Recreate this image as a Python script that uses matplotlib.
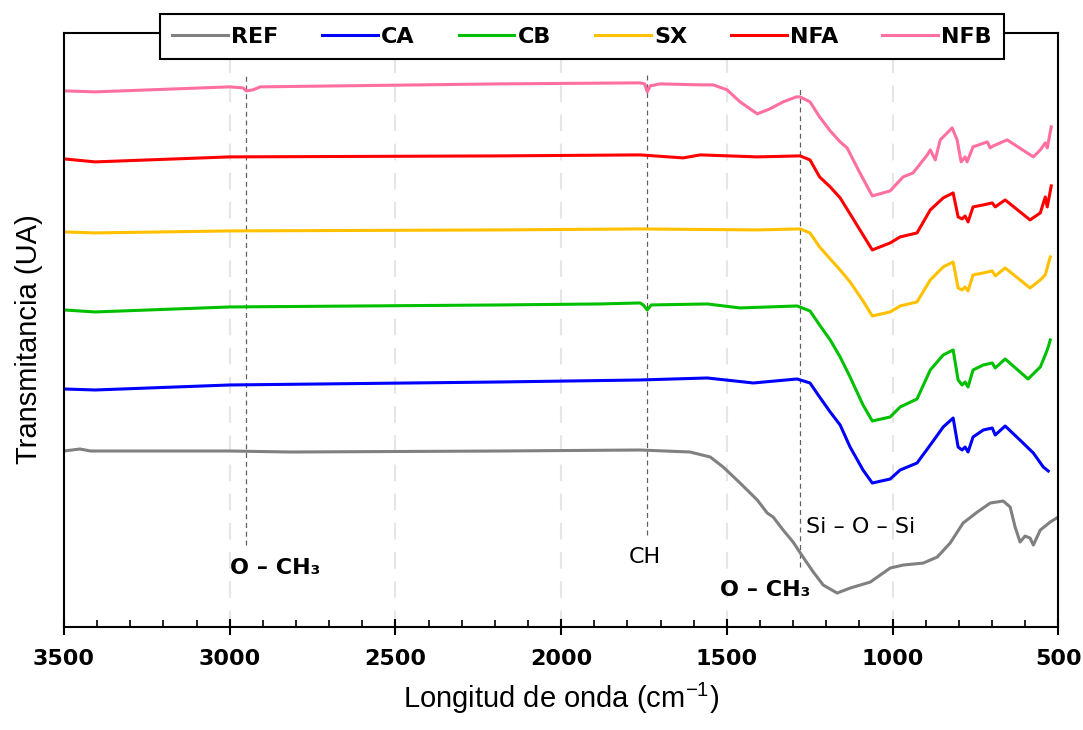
import numpy as np
import matplotlib
matplotlib.use("Agg")
import matplotlib.pyplot as plt
from matplotlib import font_manager

# wavenumber (cm-1) and offset transmittance (arbitrary units)
ref_w = [3500, 3452, 3420, 3000, 2818, 2184, 1762, 1611, 1550, 1511, 1460, 1408, 1378, 1360, 1330,
         1300, 1270, 1239, 1209, 1167, 1128, 1067, 1007, 968, 907, 865, 826, 787, 744, 705, 666,
         645, 630, 615, 600, 585, 575, 554, 524, 500]
ref_t = [176, 178, 176, 176, 175, 176, 177, 175, 170, 160, 144, 127, 114, 110, 97,
         85, 70, 55, 42, 34, 39, 45, 59, 62, 64, 70, 84, 104, 115, 124, 126,
         120, 100, 85, 91, 89, 82, 97, 105, 110]

ca_w = [3500, 3406, 3000, 2184, 1762, 1559, 1420, 1288, 1249, 1220, 1188, 1158, 1128, 1089, 1061,
        1007, 977, 926, 886, 847, 817, 802, 790, 781, 772, 757, 726, 699, 690, 660, 606, 575, 545, 530]
ca_t = [238, 237, 242, 245, 247, 249, 244, 248, 244, 230, 215, 202, 180, 157, 144,
        148, 157, 164, 182, 200, 209, 180, 177, 180, 175, 190, 197, 199, 192, 201, 184, 174, 160, 156]

cb_w = [3500, 3406, 3000, 2184, 1882, 1762, 1752, 1740, 1728, 1559, 1460, 1288, 1249, 1220, 1188,
        1158, 1128, 1089, 1061, 1007, 977, 926, 886, 847, 817, 802, 790, 781, 772, 757, 726, 699,
        690, 660, 591, 554, 539, 530, 524]
cb_t = [317, 315, 320, 322, 323, 324, 322, 317, 322, 323, 319, 321, 316, 302, 287,
        270, 250, 222, 206, 210, 220, 228, 257, 272, 277, 247, 242, 245, 240, 257, 262, 264,
        259, 268, 248, 260, 272, 280, 287]

sx_w = [3500, 3406, 3000, 2184, 1762, 1408, 1279, 1249, 1220, 1188, 1158, 1128, 1089, 1061, 1007,
        977, 926, 886, 847, 817, 802, 790, 781, 772, 757, 726, 699, 690, 660, 585, 554, 539, 524]
sx_t = [395, 394, 396, 397, 398, 397, 398, 394, 380, 368, 357, 345, 326, 311, 315,
        321, 325, 347, 360, 365, 339, 337, 340, 336, 352, 354, 356, 351, 359, 339, 347, 352, 370]

nfa_w = [3500, 3406, 3000, 2184, 1762, 1632, 1580, 1408, 1279, 1249, 1220, 1188, 1158, 1128, 1089,
         1061, 1007, 977, 926, 886, 847, 817, 802, 790, 781, 772, 757, 726, 699, 690, 660, 585,
         554, 539, 533, 521]
nfa_t = [468, 465, 470, 471, 472, 469, 472, 470, 471, 467, 450, 440, 429, 413, 392,
         377, 384, 390, 394, 417, 429, 434, 410, 408, 411, 405, 420, 422, 424, 420, 427, 407,
         414, 430, 420, 441]

nfb_w = [3500, 3406, 3000, 2960, 2950, 2930, 2908, 2184, 1762, 1748, 1740, 1731, 1701, 1580, 1541,
         1499, 1460, 1408, 1370, 1330, 1290, 1279, 1249, 1220, 1188, 1158, 1137, 1100, 1061, 1007,
         968, 938, 895, 886, 871, 856, 820, 805, 793, 781, 775, 757, 714, 705, 696, 654, 575,
         554, 539, 533, 521]
nfb_t = [536, 535, 540, 539, 536, 537, 540, 543, 544, 543, 535, 541, 543, 542, 542,
         537, 525, 513, 518, 525, 530, 530, 525, 510, 496, 485, 479, 455, 431, 436,
         450, 454, 472, 477, 467, 487, 499, 487, 465, 470, 465, 480, 485, 479, 481, 487, 470,
         477, 484, 479, 500]

labels = ["REF", "CA", "CB", "SX", "NFA", "NFB"]
colors = ["#808080", "#0000ff", "#00c000", "#ffc000", "#ff0000", "#ff6f9f"]
series = [(ref_w, ref_t), (ca_w, ca_t), (cb_w, cb_t), (sx_w, sx_t), (nfa_w, nfa_t), (nfb_w, nfb_t)]

# band markers: wavenumber, line bottom/top
bands = [(2950, 82, 552), (1740, 92, 552), (1280, 60, 541)]
notes = [("O – CH₃", 2863, 59, True, "center"),
         ("CH", 1747, 70, False, "center"),
         ("O – CH₃", 1384, 37, True, "center"),
         ("Si – O – Si", 1262, 100, False, "left")]

installed = {f.name for f in font_manager.fontManager.ttflist}
narrow = [f for f in ["DejaVu Sans Condensed", "Liberation Sans Narrow"] if f in installed] + ["DejaVu Sans"]

plt.rcParams["mathtext.fontset"] = "custom"
plt.rcParams["mathtext.rm"] = "Liberation Sans"

fig = plt.figure(figsize=(10.83, 7.30), dpi=100)
ax = fig.add_axes([0.0591, 0.141, 0.918, 0.814])

for x in [3000, 2500, 2000, 1500, 1000]:
    ax.axvline(x, color="#e6e6e6", lw=1.5, ls=(0, (8, 6)), zorder=0)

for (w, t), lab, c in zip(series, labels, colors):
    ax.plot(w, t, color=c, lw=2.2, label=lab, solid_joinstyle="round")

for x, lo, hi in bands:
    ax.plot([x, x], [lo, hi], color="#606060", lw=0.9, ls=(0, (4, 3)), zorder=1)

for txt, x, y, bold, ha in notes:
    ax.text(x, y, txt, ha=ha, va="center", fontsize=16,
            fontweight="bold" if bold else "normal", family="DejaVu Sans")

ax.set_xlim(3500, 500)
ax.set_ylim(0, 594)
ax.set_xticks(np.arange(3500, 499, -500))
ax.set_xticks(np.arange(3500, 499, -100), minor=True)
ax.set_yticks([])
ax.tick_params(axis="x", which="major", direction="inout", length=12, width=1.5, pad=10)
ax.tick_params(axis="x", which="minor", direction="in", length=5, width=1.2)
for lab in ax.get_xticklabels():
    lab.set_family(narrow)
    lab.set_fontweight("bold")
    lab.set_fontsize(16)
for sp in ax.spines.values():
    sp.set_linewidth(1.5)
    sp.set_color("black")

ax.set_xlabel("Longitud de onda (cm$^{-1}$)", fontsize=21, family="Liberation Sans", labelpad=8)
ax.set_ylabel("Transmitancia (UA)", fontsize=21, family="Liberation Sans")
ax.yaxis.set_label_coords(-0.021, 0.485)

leg = fig.legend(loc="center", bbox_to_anchor=(0.1477, 0.9164, 0.7793, 0.0671), mode="expand",
                 ncol=6, frameon=True, fancybox=False, edgecolor="black", handlelength=2.5,
                 handletextpad=0.15, borderpad=0.55, borderaxespad=0,
                 prop={"family": narrow, "weight": "bold", "size": 16})
leg.get_frame().set_linewidth(1.5)
leg.get_frame().set_alpha(1)

plt.savefig("out.png", dpi=100)
